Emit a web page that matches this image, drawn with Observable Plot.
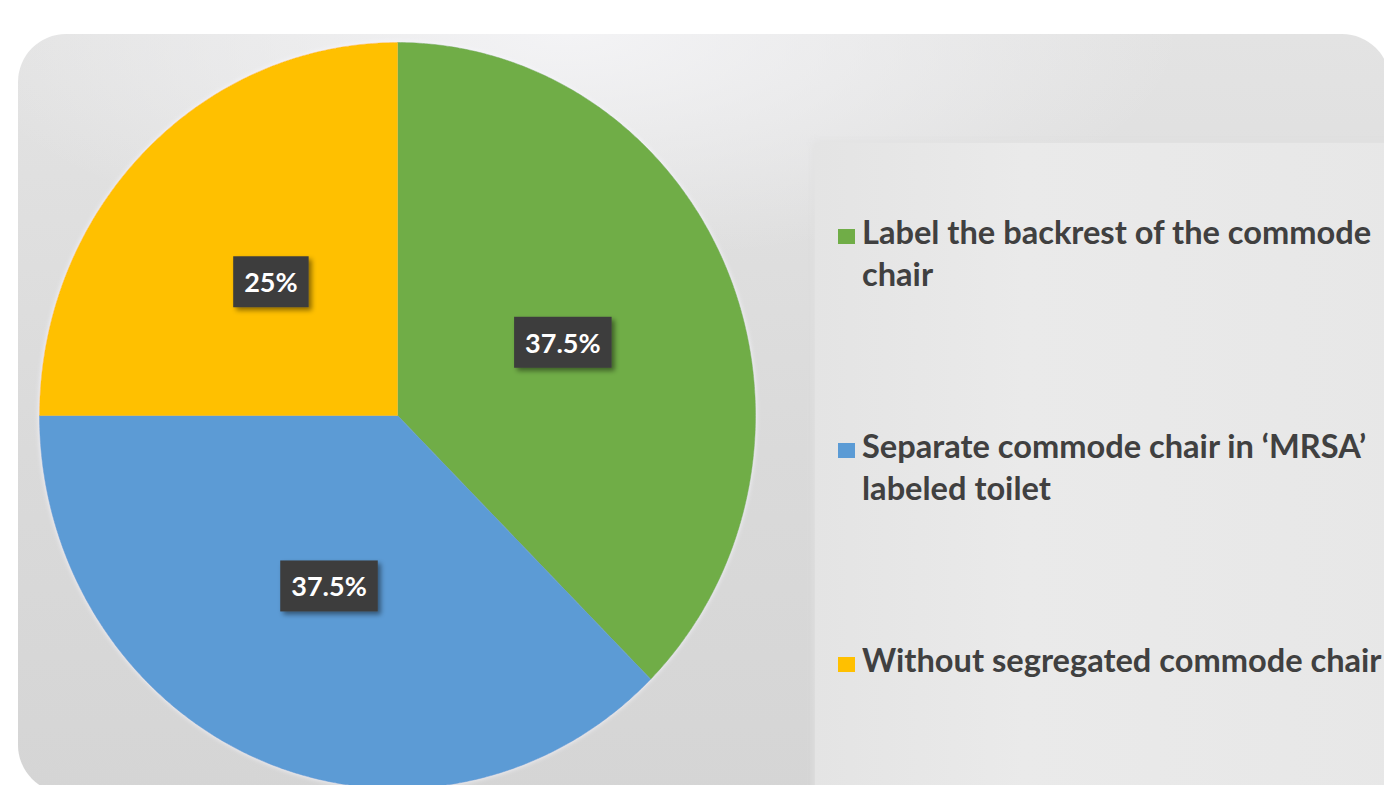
<!DOCTYPE html>
<html>
<head>
<meta charset="utf-8">
<script src="https://cdn.jsdelivr.net/npm/d3@7"></script>
<script src="https://cdn.jsdelivr.net/npm/@observablehq/plot@0.6"></script>
<style>
  html, body { margin: 0; padding: 0; background: #ffffff; width: 1384px; height: 785px; overflow: hidden; }
  #panel {
    position: absolute; left: 18px; top: 34px; width: 1372px; height: 759px;
    border-radius: 48px;
    background:
      radial-gradient(ellipse 45% 30% at 40% 0%, rgba(244,244,246,0.95), rgba(244,244,246,0) 100%),
      linear-gradient(180deg, #e3e3e3 0%, #dadada 55%, #d5d5d5 100%);
  }
  #legendPanel {
    position: absolute; left: 815px; top: 143px; width: 600px; height: 700px;
    background: linear-gradient(90deg, #e4e4e4 0%, #eaeaea 35%, #e7e7e7 100%);
    box-shadow: 0 0 6px 2px rgba(225,225,225,0.8);
  }
  #chart, #legend { position: absolute; left: 0; top: 0; }
  #chart svg { overflow: visible; }
</style>
</head>
<body>
<div id="panel"></div>
<div id="legendPanel"></div>
<div id="chart"></div>
<svg id="legend" width="1384" height="785"></svg>
<script>
// Slices, in clockwise order starting at twelve o'clock
const categories = [
  "Label the backrest of the commode chair",
  "Separate commode chair in \u2018MRSA\u2019 labeled toilet",
  "Without segregated commode chair"
];
const shares = [37.5, 37.5, 25];
const shareLabels = ["37.5%", "37.5%", "25%"];
const colors = ["#70ad47", "#5b9bd5", "#ffc000"];
const legendLines = [
  ["Label the backrest of the commode", "chair"],
  ["Separate commode chair in \u2018MRSA\u2019", "labeled toilet"],
  ["Without segregated commode chair"]
];

// Build each wedge outline on the unit circle (angle measured clockwise from the top)
const total = d3.sum(shares);
const wedges = [];
const labels = [];
let start = 0;
categories.forEach((cat, i) => {
  const sweep = shares[i] / total * 2 * Math.PI;
  const end = start + sweep;
  wedges.push({cat, x: 0, y: 0});
  const steps = Math.max(2, Math.ceil(sweep / (Math.PI / 360)));
  for (let k = 0; k <= steps; ++k) {
    const a = start + sweep * k / steps;
    wedges.push({cat, x: Math.sin(a), y: Math.cos(a)});
  }
  wedges.push({cat, x: 0, y: 0});
  const mid = (start + end) / 2;
  labels.push({cat, text: shareLabels[i], x: 0.5 * Math.sin(mid), y: 0.5 * Math.cos(mid)});
  start = end;
});

const chart = Plot.plot({
  width: 1384,
  height: 785,
  margin: 0,
  style: {background: "transparent", overflow: "visible"},
  x: {domain: [-1, 1], range: [39, 755], axis: null},
  y: {domain: [-1, 1], range: [788, 42], axis: null},
  color: {domain: categories, range: colors},
  marks: [
    Plot.line(wedges, {
      x: "x", y: "y", z: "cat", fill: "cat", stroke: "cat", strokeWidth: 0.6,
      curve: "linear-closed", className: "wedges"
    }),
    Plot.text(labels, {
      x: "x", y: "y", text: "text", fill: "#ffffff",
      fontSize: 27, fontWeight: 700, fontFamily: "Lato, 'Open Sans', sans-serif",
      className: "share-label"
    })
  ]
});
document.getElementById("chart").appendChild(chart);

const svg = d3.select(chart);
const defs = svg.append("defs");

// Faint light halo around the pie
const glow = defs.append("filter").attr("id", "pieGlow").attr("x", "-5%").attr("y", "-5%").attr("width", "110%").attr("height", "110%");
glow.append("feDropShadow").attr("dx", 0).attr("dy", 0).attr("stdDeviation", 2.5).attr("flood-color", "#f8f8ff").attr("flood-opacity", 0.9);
svg.select("g.wedges").attr("filter", "url(#pieGlow)");

// Dark boxes with a soft shadow behind the percentage labels
const f = defs.append("filter").attr("id", "boxShadow").attr("x", "-20%").attr("y", "-20%").attr("width", "150%").attr("height", "160%");
f.append("feDropShadow").attr("dx", 3).attr("dy", 3).attr("stdDeviation", 2.5).attr("flood-color", "#000").attr("flood-opacity", 0.45);
svg.selectAll("g.share-label text").each(function() {
  const b = this.getBBox();
  const padX = 11, padY = 9;
  const tr = this.getAttribute("transform");
  d3.select(this.parentNode).insert("rect", () => this)
    .attr("x", b.x - padX).attr("y", b.y - padY)
    .attr("width", b.width + 2 * padX).attr("height", b.height + 2 * padY)
    .attr("transform", tr)
    .attr("fill", "#3d3d3d")
    .attr("filter", "url(#boxShadow)");
});

// Legend on the right
const legend = d3.select("#legend")
  .attr("font-family", "Lato, 'Open Sans', sans-serif")
  .attr("font-weight", 700)
  .attr("font-size", 32.6);
const legendX = 838, firstBaseline = 244, itemGap = 214, lineGap = 42;
legendLines.forEach((lines, i) => {
  const base = firstBaseline + i * itemGap;
  legend.append("rect")
    .attr("x", legendX).attr("y", base - 15)
    .attr("width", 17).attr("height", 15)
    .attr("fill", colors[i]);
  lines.forEach((line, j) => {
    legend.append("text")
      .attr("x", legendX + 24).attr("y", base + j * lineGap)
      .attr("fill", "#404040")
      .text(line);
  });
});
</script>
</body>
</html>
